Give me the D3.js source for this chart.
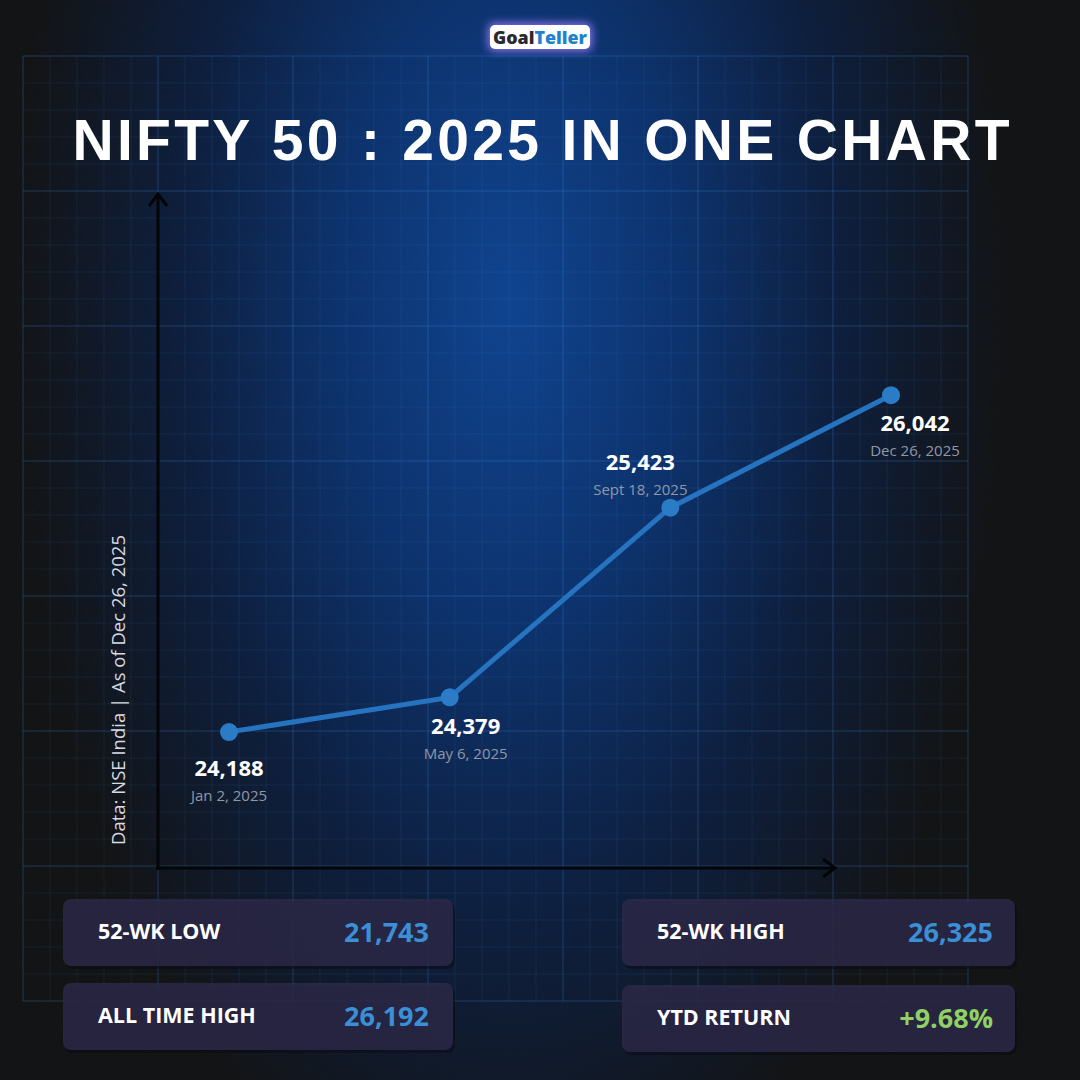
<!DOCTYPE html>
<html>
<head>
<meta charset="utf-8">
<script src="https://cdn.jsdelivr.net/npm/d3@7"></script>
<style>
  html, body { margin: 0; padding: 0; background: #101112; }
  svg { display: block; }
</style>
</head>
<body>
<svg id="chart" width="1080" height="1080"></svg>
<script>
// data
const dates   = ["Jan 2, 2025", "May 6, 2025", "Sept 18, 2025", "Dec 26, 2025"];
const values  = [24188, 24379, 25423, 26042];
const statLabels = ["52-WK LOW", "ALL TIME HIGH", "52-WK HIGH", "YTD RETURN"];
const statValues = ["21,743", "26,192", "26,325", "+9.68%"];
const titleText  = "NIFTY 50 : 2025 IN ONE CHART";
const sourceText = "Data: NSE India | As of Dec 26, 2025";

// label placement around each point (dx, dy of value text)
const labelOffsets = [[0, 44], [16, 37], [-30, -38], [24, 36]];

let chart = d3.select("#chart");
const W = 1080, H = 1080;

let defs = chart.append("defs");

// background gradient (tall ellipse of blue in the middle)
let bg = defs.append("radialGradient")
    .attr("id", "bg")
    .attr("gradientUnits", "userSpaceOnUse")
    .attr("cx", 510).attr("cy", 300).attr("r", 500)
    .attr("gradientTransform", "translate(510,300) scale(1,1.9) translate(-510,-300)");
bg.append("stop").attr("offset", "0%").attr("stop-color", "#0d428f");
bg.append("stop").attr("offset", "35%").attr("stop-color", "#0a306b");
bg.append("stop").attr("offset", "66%").attr("stop-color", "#0b1c3b");
bg.append("stop").attr("offset", "100%").attr("stop-color", "#101112");

chart.append("rect")
    .attr("width", W).attr("height", H)
    .attr("fill", "url(#bg)");

// grain
let grain = defs.append("filter").attr("id", "grain");
grain.append("feTurbulence")
    .attr("type", "fractalNoise")
    .attr("baseFrequency", 0.9)
    .attr("numOctaves", 2)
    .attr("stitchTiles", "stitch");
grain.append("feColorMatrix")
    .attr("type", "saturate").attr("values", 0);
chart.append("rect")
    .attr("width", W).attr("height", H)
    .attr("filter", "url(#grain)")
    .attr("opacity", 0.035);

// blueprint grid
const gx0 = 23, gx1 = 968, gy0 = 56, gy1 = 1001, cell = 27;
let grid = chart.append("g");
d3.range(gx0, gx1 + 1, cell).forEach((x, i) => {
    grid.append("line")
        .attr("x1", x).attr("x2", x)
        .attr("y1", gy0).attr("y2", gy1)
        .attr("stroke", "#3a8ee0")
        .attr("stroke-opacity", i % 5 === 0 ? 0.3 : 0.11)
        .attr("stroke-width", 1);
});
d3.range(gy0, gy1 + 1, cell).forEach((y, i) => {
    grid.append("line")
        .attr("x1", gx0).attr("x2", gx1)
        .attr("y1", y).attr("y2", y)
        .attr("stroke", "#3a8ee0")
        .attr("stroke-opacity", i % 5 === 0 ? 0.3 : 0.11)
        .attr("stroke-width", 1);
});

// logo
let glow = defs.append("filter").attr("id", "glow")
    .attr("x", "-30%").attr("y", "-60%").attr("width", "160%").attr("height", "220%");
glow.append("feGaussianBlur").attr("stdDeviation", 4);
chart.append("rect")
    .attr("x", 488).attr("y", 23).attr("width", 104).attr("height", 28)
    .attr("rx", 6)
    .attr("fill", "#9b7bff")
    .attr("filter", "url(#glow)")
    .attr("opacity", 0.9);
chart.append("rect")
    .attr("x", 490).attr("y", 25).attr("width", 100).attr("height", 24)
    .attr("rx", 5)
    .attr("fill", "#ffffff");
let logo = chart.append("text")
    .attr("x", 540).attr("y", 43.5)
    .attr("text-anchor", "middle")
    .attr("textLength", 94)
    .attr("lengthAdjust", "spacingAndGlyphs")
    .style("font-family", "'Open Sans', sans-serif")
    .style("font-weight", 800)
    .style("font-size", "18px");
logo.append("tspan").text("Goal").attr("fill", "#2a2a2e");
logo.append("tspan").text("Teller").attr("fill", "#1f82cc");

// title
chart.append("text")
    .text(titleText)
    .attr("x", 541).attr("y", 160)
    .attr("text-anchor", "middle")
    .attr("textLength", 937)
    .attr("lengthAdjust", "spacing")
    .attr("fill", "#ffffff")
    .style("font-family", "'Liberation Sans', Arial, sans-serif")
    .style("font-weight", 700)
    .style("font-size", "57px");

// scales
let x = d3.scalePoint()
    .domain(dates)
    .range([229, 891]);

let y = d3.scaleLinear()
    .domain([23440, 27160])
    .range([868, 192]);

// axes as arrows
let axisCol = "#040507";
chart.append("line")
    .attr("x1", 158).attr("x2", 158)
    .attr("y1", 870).attr("y2", 194)
    .attr("stroke", axisCol).attr("stroke-width", 3);
chart.append("path")
    .attr("d", "M149,206 L158,194 L167,206")
    .attr("fill", "none").attr("stroke", axisCol).attr("stroke-width", 3);
chart.append("line")
    .attr("x1", 156).attr("x2", 835)
    .attr("y1", 868).attr("y2", 868)
    .attr("stroke", axisCol).attr("stroke-width", 3);
chart.append("path")
    .attr("d", "M823,859 L835,868 L823,877")
    .attr("fill", "none").attr("stroke", axisCol).attr("stroke-width", 3);

// source label
chart.append("text")
    .text(sourceText)
    .attr("transform", "translate(125, 690) rotate(-90)")
    .attr("text-anchor", "middle")
    .attr("fill", "#d6dae2")
    .style("font-family", "'Open Sans', sans-serif")
    .style("font-size", "18.5px");

// line
const pts = dates.map((d, i) => ({date: d, value: values[i]}));
chart.append("path")
    .datum(pts)
    .attr("fill", "none")
    .attr("stroke", "#2674bf")
    .attr("stroke-width", 5)
    .attr("d", d3.line()
        .x(d => x(d.date))
        .y(d => y(d.value)));

chart.selectAll("circle.pt")
    .data(pts)
    .enter().append("circle")
    .attr("class", "pt")
    .attr("cx", d => x(d.date))
    .attr("cy", d => y(d.value))
    .attr("r", 9)
    .attr("fill", "#2a7cc6");

// point labels
let lab = chart.selectAll("g.lab")
    .data(pts)
    .enter().append("g")
    .attr("class", "lab")
    .attr("transform", (d, i) => "translate(" + (x(d.date) + labelOffsets[i][0]) + "," + (y(d.value) + labelOffsets[i][1]) + ")");
lab.append("text")
    .text(d => d3.format(",")(d.value))
    .attr("text-anchor", "middle")
    .attr("fill", "#ffffff")
    .style("font-family", "'Open Sans', sans-serif")
    .style("font-weight", 700)
    .style("font-size", "22px");
lab.append("text")
    .text(d => d.date)
    .attr("y", 25)
    .attr("text-anchor", "middle")
    .attr("fill", "#9098a6")
    .style("font-family", "'Open Sans', sans-serif")
    .style("font-size", "15px");

// stat boxes
const boxPos = [[63, 899], [63, 983], [622, 899], [622, 985]];
const valueCols = ["#3b8fd6", "#3b8fd6", "#3b8fd6", "#8fd163"];
let box = chart.selectAll("g.box")
    .data(statLabels)
    .enter().append("g")
    .attr("class", "box")
    .attr("transform", (d, i) => "translate(" + boxPos[i][0] + "," + boxPos[i][1] + ")");
box.append("rect")
    .attr("x", 2).attr("y", 3)
    .attr("width", (d, i) => i < 2 ? 390 : 393)
    .attr("height", 67)
    .attr("rx", 8)
    .attr("fill", "#06080f")
    .attr("fill-opacity", 0.45);
box.append("rect")
    .attr("width", (d, i) => i < 2 ? 390 : 393)
    .attr("height", 67)
    .attr("rx", 8)
    .attr("fill", "#2e2a4c")
    .attr("fill-opacity", 0.78);
box.append("text")
    .text(d => d)
    .attr("x", 35).attr("y", 40)
    .attr("fill", "#ffffff")
    .style("font-family", "'Open Sans', sans-serif")
    .style("font-weight", 700)
    .style("font-size", "21.5px");
box.append("text")
    .text((d, i) => statValues[i])
    .attr("x", (d, i) => i < 2 ? 366 : 371)
    .attr("y", 43)
    .attr("text-anchor", "end")
    .attr("fill", (d, i) => valueCols[i])
    .style("font-family", "'Open Sans', sans-serif")
    .style("font-weight", 700)
    .style("font-size", "27px");
</script>
</body>
</html>
